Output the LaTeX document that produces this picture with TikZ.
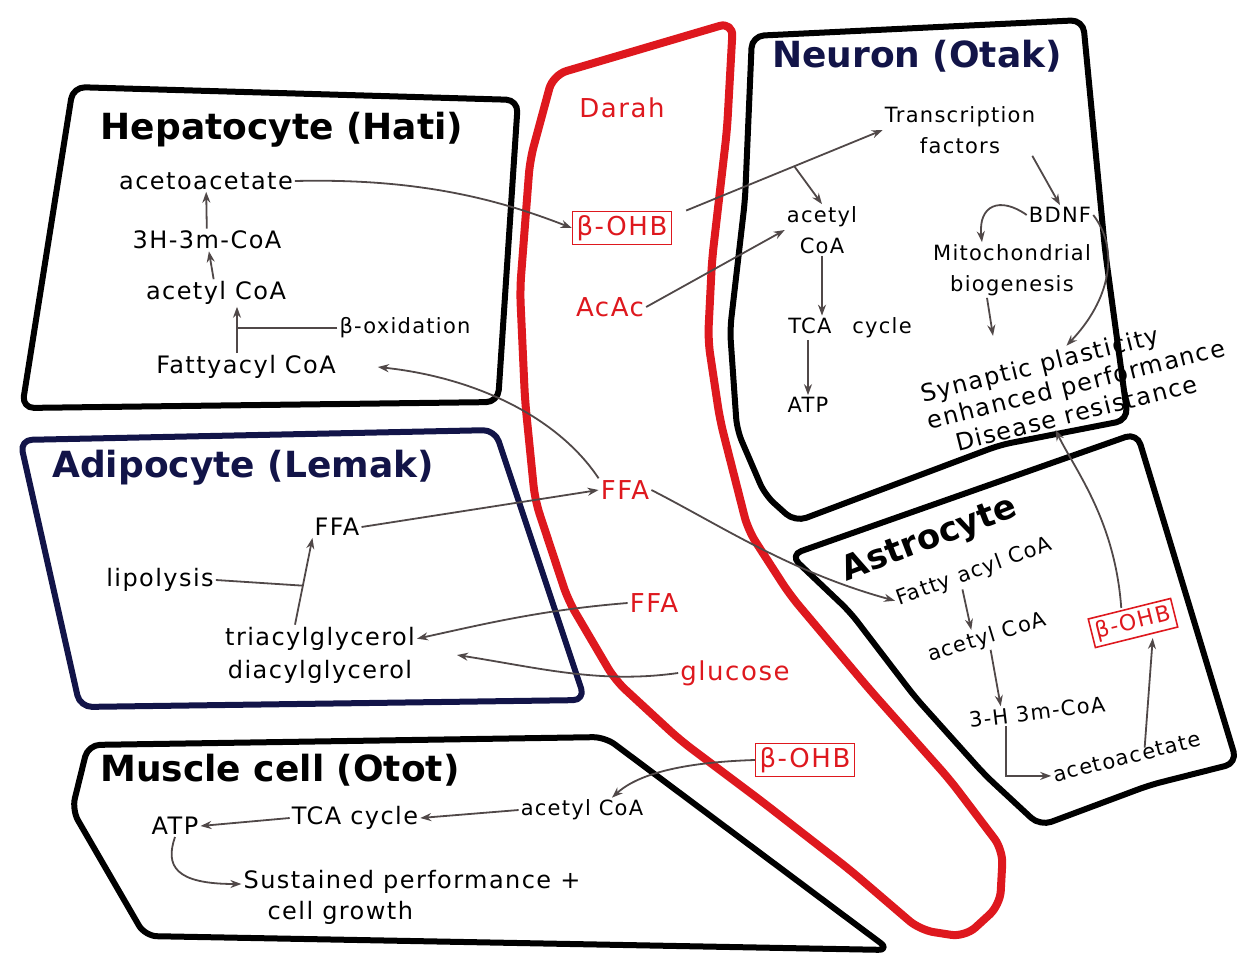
\documentclass[tikz,border=0pt]{standalone}
\usepackage{fontspec}
\setmainfont{DejaVu Sans}
\newfontfamily\tangan[LetterSpace=6]{DejaVu Sans}
\usetikzlibrary{arrows.meta,positioning,calc}

\definecolor{darah}{RGB}{222,24,30}
\definecolor{tinta}{RGB}{80,72,72}
\definecolor{navy}{RGB}{18,20,72}

\begin{document}
\begin{tikzpicture}[x=1pt, y=-1pt, >={Stealth[length=11pt,width=8pt]},
    cell/.style={line width=6pt, rounded corners=12pt, line join=round},
    judul/.style={font=\fontsize{36}{40}\selectfont\bfseries, inner sep=1pt},
    isi/.style={font=\tangan\fontsize{24}{31}\selectfont, align=center, inner sep=2pt},
    kecil/.style={isi, font=\tangan\fontsize{21}{31}\selectfont},
    merah/.style={isi, text=darah, font=\tangan\fontsize{26}{31}\selectfont},
    kotak/.style={merah, draw=darah, line width=1.6pt, inner sep=4pt},
    ar/.style={->, draw=tinta, line width=1.8pt},
    garis/.style={draw=tinta, line width=1.8pt}]
    \useasboundingbox (0,0) rectangle (1251,970);

    % outlines of the cells and the blood vessel
    \draw [cell] (73,87) -- (518,100) -- (498,402) -- (22,408) -- cycle;
    \draw [cell] (752,36) -- (1083,20) -- (1105,250) -- (1128,420) -- (1000,445) -- (795,522) -- (765,495) -- (737,430) -- (730,330) -- (745,200) -- cycle;
    \draw [cell] (790,555) -- (1137,433) -- (1237,763) -- (1150,785) -- (1040,826) -- (985,775) -- (915,697) -- (850,612) -- cycle;
    \draw [cell, draw=navy] (20,440) -- (495,430) -- (585,700) -- (80,707) -- cycle;
    \draw [cell] (88,745) -- (605,737) -- (890,950) -- (145,936) -- (72,810) -- cycle;
    \draw [line width=8pt, draw=darah, rounded corners=14pt, line join=round] (553,75) -- (733,22) -- (727,130) -- (712,260) -- (708,340) -- (720,420) -- (748,530) -- (790,595) -- (870,690) -- (950,780) -- (1003,850) -- (1000,905) -- (965,937) -- (920,930) -- (850,870) -- (760,800) -- (680,740) -- (615,680) -- (568,600) -- (535,500) -- (525,400) -- (520,290) -- (530,160) -- cycle;

    % Hepatocyte
    \node [judul] (hepTitle) at (282,130) {Hepatocyte (Hati)};
    \node [isi] (hAcac) at (206,181) {acetoacetate};
    \node [isi] (hHmg) at (207,240) {3H-3m-CoA};
    \node [isi] (hAcoa) at (216,293) {acetyl CoA};
    \node [kecil] (hBox) at (405,328) {β-oxidation};
    \node [isi] (hFat) at (246,367) {Fattyacyl CoA};
    \coordinate (hJoin) at (237,328);
    \draw [ar] (hHmg) -- (hAcac);
    \draw [ar] (hAcoa) -- (hHmg);
    \draw [ar] (hFat.north -| hJoin) -- (hAcoa.south -| hJoin);
    \draw [garis] (hBox.west) -- (hJoin);

    % Darah
    \node [merah] (darahLbl) at (622,108) {Darah};
    \node [kotak] (ohbA) at (622,228) {β-OHB};
    \node [merah] (acac) at (610,307) {AcAc};
    \node [merah] (ffaA) at (625,490) {FFA};
    \node [merah] (ffaB) at (654,603) {FFA};
    \node [merah] (gluc) at (735,673) {glucose};
    \node [kotak] (ohbB) at (805,760) {β-OHB};

    % Neuron
    \node [judul, text=navy] (neuTitle) at (917,56) {Neuron (Otak)};
    \node [kecil] (tf) at (960,130) {Transcription\\factors};
    \node [kecil] (nAcoa) at (822,230) {acetyl\\CoA};
    \node [kecil] (nTca) at (850,328) {TCA\quad cycle};
    \node [kecil] (nAtp) at (808,405) {ATP};
    \node [kecil] (bdnf) at (1060,215) {BDNF};
    \node [kecil] (mito) at (1012,270) {Mitochondrial\\biogenesis};
    \node [isi, rotate=14, align=left, font=\tangan\fontsize{24}{28}\selectfont] (syn) at (1076,384) {Synaptic plasticity\\enhanced performance\\\hspace{22pt}Disease resistance};
    \coordinate (cabang) at ($([xshift=14pt]ohbA.north east)!0.55!(tf.west)$);
    \draw [ar] ([xshift=14pt]ohbA.north east) -- (tf.west);
    \draw [ar] (cabang) -- (nAcoa.north);
    \draw [ar] (acac.east) -- (nAcoa.west);
    \draw [ar] (nAcoa.south) -- (nAcoa.south |- nTca.north);
    \draw [ar] (nTca.south -| nAtp) -- (nAtp.north);
    \draw [ar] ([xshift=-5pt]tf.south east) -- (bdnf.north);
    \draw [ar] (bdnf.west) .. controls (1000,196) and (978,205) .. ([xshift=-30pt]mito.north);
    \draw [ar] ([xshift=-25pt]mito.south) -- ++(6,38);
    \draw [ar] (bdnf.east) .. controls (1120,250) and (1110,300) .. (syn.north);

    % Astrocyte
    \node [judul, rotate=21, font=\fontsize{34}{38}\selectfont\bfseries] (astTitle) at (930,540) {Astrocyte};
    \node [kecil, rotate=20] (aFat) at (974,572) {Fatty acyl CoA};
    \node [kecil, rotate=17] (aAcoa) at (987,638) {acetyl CoA};
    \node [kecil, rotate=7] (aHmg) at (1037,712) {3-H 3m-CoA};
    \node [kecil, rotate=14] (aAcac) at (1127,757) {acetoacetate};
    \node [kotak, rotate=14, font=\tangan\fontsize{22}{26}\selectfont] (ohbC) at (1133,623) {β-OHB};
    \draw [ar] ($(aFat.south west)!0.4!(aFat.south east)$) -- ($(aAcoa.north west)!0.4!(aAcoa.north east)$);
    \draw [ar] ($(aAcoa.south west)!0.5!(aAcoa.south east)$) -- ($(aHmg.north west)!0.25!(aHmg.north east)$);
    \draw [ar] ($(aHmg.south west)!0.27!(aHmg.south east)$) |- (aAcac.west);
    \draw [ar] ([xshift=20pt]aAcac.north) -- ([xshift=16pt]ohbC.south);
    \draw [ar] ([xshift=-8pt]ohbC.north) .. controls (1115,520) and (1075,470) .. ($(syn.south west)!0.4!(syn.south east)$);
    \draw [ar] (ffaA.east) .. controls (720,525) and (790,572) .. (aFat.west);

    % Adipocyte
    \node [judul, text=navy] (adiTitle) at (243,468) {Adipocyte (Lemak)};
    \node [isi] (dFfa) at (337,527) {FFA};
    \node [isi] (lipo) at (160,580) {lipolysis};
    \node [isi, font=\tangan\fontsize{24}{33}\selectfont] (tag) at (320,655) {triacylglycerol\\diacylglycerol};
    \coordinate (dJoin) at ($([xshift=-25pt]tag.north)!0.45!(dFfa.south west)$);
    \draw [ar] ([xshift=-25pt]tag.north) -- (dFfa.south west);
    \draw [garis] (lipo.east) -- (dJoin);
    \draw [ar] (dFfa.east) -- (ffaA.west);
    \draw [ar] (ffaB.west) .. controls (540,610) and (480,625) .. ([yshift=-14pt]tag.north east);
    \draw [ar] (gluc.west) .. controls (600,684) and (540,668) .. ([xshift=40pt]tag.east);
    \draw [ar] (ffaA.north west) .. controls (560,420) and (480,378) .. ([xshift=40pt]hFat.east);
    \draw [ar] (hAcac.east) .. controls (420,178) and (500,200) .. (ohbA.west);

    % Muscle cell
    \node [judul] (musTitle) at (280,770) {Muscle cell (Otot)};
    \node [isi] (mAtp) at (175,826) {ATP};
    \node [isi] (mTca) at (355,818) {TCA cycle};
    \node [kecil] (mAcoa) at (582,810) {acetyl CoA};
    \node [isi, align=left] (sust) at (412,897) {Sustained performance +\\\quad cell growth};
    \draw [ar] (mAcoa.west) -- (mTca.east);
    \draw [ar] (mTca.west) -- (mAtp.east);
    \draw [ar] (ohbB.west) .. controls (690,762) and (640,772) .. ([xshift=30pt]mAcoa.north);
    \draw [ar] (mAtp.south) .. controls (165,866) and (175,884) .. ([yshift=13pt]sust.west);
\end{tikzpicture}
\end{document}
